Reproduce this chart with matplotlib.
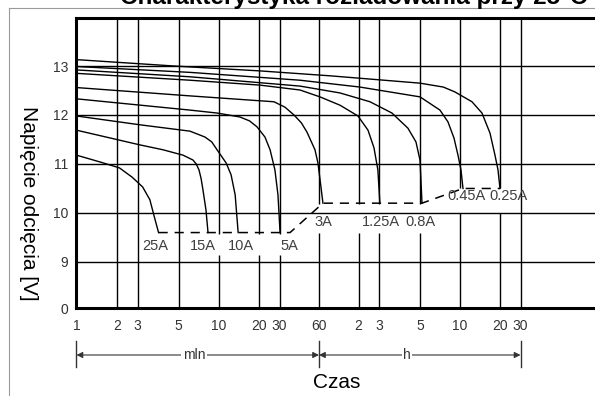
import matplotlib
matplotlib.use('Agg')
import matplotlib.pyplot as plt
from matplotlib.lines import Line2D
from matplotlib.ticker import NullLocator
import numpy as np

plt.rcParams['font.family'] = ['Liberation Sans', 'DejaVu Sans']

# discharge curves: time in minutes, voltage in V
labels = ['25A', '15A', '10A', '5A', '3A', '1.25A', '0.8A', '0.45A', '0.25A']
t_25 = [1, 1.5, 2.1, 2.7, 3.2, 3.5, 3.7, 3.9]
v_25 = [11.18, 11.04, 10.92, 10.73, 10.53, 10.27, 9.92, 9.6]
t_15 = [1, 3.09, 4.12, 5.41, 6.43, 6.8, 7.13, 7.4, 7.64, 8.05, 8.34]
v_15 = [11.69, 11.39, 11.29, 11.18, 11.08, 11.0, 10.88, 10.7, 10.47, 10.06, 9.6]
t_10 = [1, 3.09, 6.1, 7.91, 8.9, 9.75, 11.4, 12.4, 13.3, 14.0]
v_10 = [11.98, 11.80, 11.67, 11.55, 11.45, 11.29, 11.02, 10.78, 10.37, 9.6]
t_5 = [1, 6.1, 9.75, 14.4, 17, 19.3, 22.5, 24.9, 27.4, 29.1, 30.3]
v_5 = [12.33, 12.10, 12.04, 11.96, 11.88, 11.76, 11.55, 11.29, 10.88, 10.37, 9.6]
t_3 = [1, 6.1, 26.9, 33, 38.7, 44, 48.6, 55.9, 58.9, 62.1, 64.3]
v_3 = [12.56, 12.39, 12.27, 12.16, 12.0, 11.84, 11.65, 11.29, 11.02, 10.53, 10.2]
t_125 = [1, 6.1, 20.4, 43, 61, 86.7, 118.9, 144.8, 163, 176, 182]
v_125 = [12.85, 12.71, 12.61, 12.51, 12.37, 12.2, 11.98, 11.69, 11.33, 10.88, 10.2]
t_08 = [1, 6.1, 43, 86.7, 150.6, 211.5, 258.2, 285.3, 300, 305, 310.5]
v_08 = [12.92, 12.78, 12.59, 12.45, 12.27, 12.04, 11.73, 11.45, 11.08, 10.67, 10.2]
t_045 = [1, 6.1, 43, 123.6, 300, 424, 487, 540.6, 579.4, 610, 632]
v_045 = [12.99, 12.87, 12.71, 12.57, 12.37, 12.10, 11.86, 11.53, 11.18, 10.88, 10.5]
t_025 = [1, 4.73, 20.4, 72.7, 300, 450, 550, 738.5, 878, 1009, 1100, 1159, 1200]
v_025 = [13.13, 13.0, 12.90, 12.80, 12.65, 12.57, 12.47, 12.27, 12.04, 11.63, 11.18, 10.88, 10.5]

curves_t = [t_25, t_15, t_10, t_5, t_3, t_125, t_08, t_045, t_025]
curves_v = [v_25, v_15, v_10, v_5, v_3, v_125, v_08, v_045, v_025]

# dashed line joining the end points (cut-off voltage)
cut_t = [3.9, 36.1, 64.3, 310.5, 632, 1200]
cut_v = [9.6, 9.6, 10.2, 10.2, 10.5, 10.5]

# axis ticks
grid_t = [1, 2, 3, 5, 10, 20, 30, 60, 120, 180, 300, 600, 1200, 1800]
grid_lbl = ['1', '2', '3', '5', '10', '20', '30', '60', '2', '3', '5', '10', '20', '30']
volt_ticks = [9, 10, 11, 12, 13]

# layout --------------------------------------------------------------
W, H = 595, 396
AX_L, AX_B, AX_W, AX_H = 76.5, 88, 518.5, 290
Y_BOTTOM, Y_TOP = 8.06, 13.98
# the printed time axis is only roughly logarithmic: pixel offsets of its grid lines
grid_px = [0, 40.5, 61, 102, 142, 182.5, 203, 242.5, 282, 302.5, 343.5, 383.5, 423.5, 444]
DEC = 136.7
lg = np.log10(grid_t)
lg_ext = np.concatenate([[-2], lg, [5]])
px_ext = np.concatenate([[-2 * DEC], grid_px, [grid_px[-1] + (5 - lg[-1]) * DEC]])


def fwd(t):
    t = np.clip(np.asarray(t, dtype=float), 1e-2, 1e5)
    return np.interp(np.log10(t), lg_ext, px_ext)


def inv(p):
    return 10 ** np.interp(np.asarray(p, dtype=float), px_ext, lg_ext)


def fig_y(y_px):
    # pixel row (from the top) -> axes fraction
    return ((H - y_px) - AX_B) / AX_H


# gaps in the vertical grid lines where the labels sit
gaps = {10: (9.14, 9.58), 20: (9.14, 9.58), 30: (9.14, 9.58),
        60: (9.6, 10.18), 120: (9.6, 10.18), 180: (9.6, 10.18), 300: (9.6, 10.18),
        600: (10.0, 10.5), 1200: (10.0, 10.5)}
lbl_dx = [-3, -5, 3, 9, 0, 1, -2, 4, 8]
lbl_dy = [-13, -13, -13, -13, -19, -19, -19, -8, -8]

fig = plt.figure(figsize=(W / 100, H / 100), dpi=100)
ax = fig.add_axes([AX_L / W, AX_B / H, AX_W / W, AX_H / H])
ax.set_xscale('function', functions=(fwd, inv))
xmax = float(inv(AX_W))
ax.set_xlim(1, xmax)
ax.set_ylim(Y_BOTTOM, Y_TOP)

# grid
ax.hlines(volt_ticks, 1, xmax, color='black', lw=1.0)
for t in grid_t[1:]:
    if t in gaps:
        lo, hi = gaps[t]
        ax.vlines(t, Y_BOTTOM, lo, color='black', lw=1.0)
        ax.vlines(t, hi, Y_TOP, color='black', lw=1.0)
    else:
        ax.vlines(t, Y_BOTTOM, Y_TOP, color='black', lw=1.0)

for t, v in zip(curves_t, curves_v):
    ax.plot(t, v, color='black', lw=1.0, solid_joinstyle='round')
ax.plot(cut_t, cut_v, color='black', lw=1.1, dashes=(6, 4.5))

for i, name in enumerate(labels):
    ax.annotate(name, xy=(curves_t[i][-1], curves_v[i][-1]), xytext=(lbl_dx[i], lbl_dy[i]),
                textcoords='offset pixels', ha='center', va='center', fontsize=10.5, color='#404040')

ax.set_xticks(grid_t, labels=grid_lbl)
ax.xaxis.set_minor_locator(NullLocator())
ax.set_yticks([Y_BOTTOM] + volt_ticks, labels=['0'] + [str(v) for v in volt_ticks])
ax.yaxis.set_minor_locator(NullLocator())
ax.tick_params(length=0, labelsize=10, labelcolor='#333333')
ax.tick_params(axis='y', pad=6)
ax.tick_params(axis='x', pad=8)

for s in ['left', 'bottom', 'top']:
    ax.spines[s].set_linewidth(2.2)
ax.spines['right'].set_visible(False)

# time range brackets under the axis
tr = ax.get_xaxis_transform()
y_arrow = fig_y(355)
for t in [1, 60, 1800]:
    ax.plot([t, t], [fig_y(341), fig_y(367)], transform=tr, clip_on=False, color='#333333', lw=1.0)
for a, b in [(1, 60), (60, 1800)]:
    ax.annotate('', xy=(b, y_arrow), xytext=(a, y_arrow), xycoords=tr, textcoords=tr,
                arrowprops=dict(arrowstyle='<|-|>', color='#333333', lw=0.8,
                                mutation_scale=9, shrinkA=0, shrinkB=0))
ax.text(117.5 / AX_W, y_arrow, 'mln', transform=ax.transAxes, ha='center', va='center',
        fontsize=10, color='#333333', bbox=dict(facecolor='white', edgecolor='none', pad=1))
ax.text(330.5 / AX_W, y_arrow, 'h', transform=ax.transAxes, ha='center', va='center',
        fontsize=10, color='#333333', bbox=dict(facecolor='white', edgecolor='none', pad=1))

fig.text(337 / W, 1 - 383 / H, 'Czas', ha='center', va='center', fontsize=15)
fig.text(28 / W, 1 - 203 / H, 'Napięcie odcięcia [V]', rotation=270, ha='center', va='center',
         fontsize=15)
fig.text(120 / W, 1 - 4 / H, 'Charakterystyka rozładowania przy 25°C', ha='left',
         va='baseline', fontsize=17.5, fontweight='bold')

# thin page frame
fig.add_artist(Line2D([9 / W, 1], [1 - 8 / H, 1 - 8 / H], transform=fig.transFigure,
                      color='#9a9a9a', lw=0.8))
fig.add_artist(Line2D([9 / W, 9 / W], [0, 1 - 8 / H], transform=fig.transFigure,
                      color='#9a9a9a', lw=0.8))

fig.savefig('out.png', dpi=100)
